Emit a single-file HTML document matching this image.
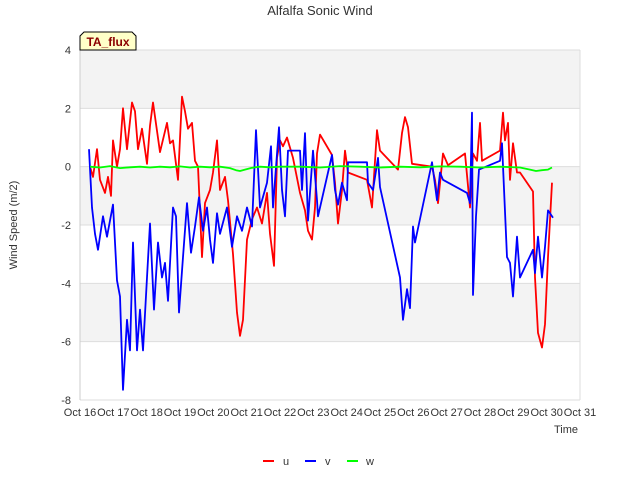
<!DOCTYPE html>
<html><head><meta charset="utf-8"><style>
body{margin:0;background:#fff;font-family:"Liberation Sans",sans-serif;}
svg text{font-family:"Liberation Sans",sans-serif;}
</style></head><body>
<svg id="c" width="640" height="480" xmlns="http://www.w3.org/2000/svg">
<rect width="640" height="480" fill="#fff"/>
<text x="320" y="15" text-anchor="middle" font-size="13" fill="#333">Alfalfa Sonic Wind</text>
<g id="bands"></g>
<g id="grid"></g>
<g id="ticks"></g>
<text transform="translate(17,225) rotate(-90)" text-anchor="middle" font-size="11" fill="#333">Wind Speed (m/2)</text>
<text x="578" y="433" text-anchor="end" font-size="11" fill="#333">Time</text>
<g id="series"></g>
<g>
<path d="M80,50 L80,36 L84,32 L132,32 L136,36 L136,50 Z" fill="#ffffc8" stroke="#000" stroke-width="1"/>
<text x="108" y="46" text-anchor="middle" font-size="12" font-weight="bold" fill="#8b0000">TA_flux</text>
</g>
<g>
<g><line x1="263" y1="461" x2="274" y2="461" stroke="#f00" stroke-width="2"/><text x="283" y="465" font-size="11" fill="#333">u</text></g>
<g><line x1="305" y1="461" x2="316" y2="461" stroke="#00f" stroke-width="2"/><text x="325" y="465" font-size="11" fill="#333">v</text></g>
<g><line x1="347" y1="461" x2="358" y2="461" stroke="#0f0" stroke-width="2"/><text x="366" y="465" font-size="11" fill="#333">w</text></g>
</g>
</svg>
<script>
const xTickLabels=["Oct 16","Oct 17","Oct 18","Oct 19","Oct 20","Oct 21","Oct 22","Oct 23","Oct 24","Oct 25","Oct 26","Oct 27","Oct 28","Oct 29","Oct 30","Oct 31"];
const yTicks=[4,2,0,-2,-4,-6,-8];
const uX=[90,93,97,100,105,108,111,113,117,120,123,127,132,135,138,142,147,150,153,160,167,170,173,178,182,185,188,192,195,198,202,205,210,213,217,220,225,228,233,237,240,243,247,252,257,262,267,270,274,277,280,283,287,293,300,305,308,312,315,317,320,332,335,338,342,345,348,367,372,377,380,398,402,405,408,412,432,435,438,443,448,465,470,473,477,480,482,500,503,505,508,510,513,517,520,533,535,538,542,545,548,552];
const uY=[0,-0.35,0.6,-0.45,-0.9,-0.35,-1.0,0.9,0,0.6,2.0,0.6,2.2,1.9,0.6,1.3,0.1,1.4,2.2,0.5,1.5,0.8,0.9,-0.45,2.4,1.9,1.3,1.5,0.2,0,-3.1,-1.25,-0.8,-0.2,0.9,-0.8,-0.35,-1.15,-3.0,-5.0,-5.8,-5.25,-2.5,-1.8,-1.4,-1.95,-0.9,-2.3,-3.4,0.3,0.9,0.7,1.0,0.3,-0.9,-1.5,-2.2,-2.5,-1.4,0.45,1.1,0.4,-0.55,-1.95,-0.8,0.55,-0.2,-0.45,-1.4,1.25,0.55,-0.1,1.15,1.7,1.35,0.1,0,-0.45,-1.25,0.45,0.05,0.45,-1.4,0.45,0.2,1.5,0.2,0.55,1.85,0.9,1.5,-0.45,0.8,-0.2,-0.2,-0.85,-3.8,-5.7,-6.2,-5.4,-3.1,-0.55];
const vX=[89,92,95,98,103,107,110,113,117,120,123,127,130,133,137,140,143,147,150,154,158,162,165,168,173,176,179,183,187,191,195,199,203,207,210,213,217,220,227,232,237,242,247,252,256,260,267,271,273,279,282,285,288,300,302,305,308,313,317,318,332,335,338,342,347,348,367,368,373,378,380,400,403,407,410,413,415,432,437,440,443,467,470,472,473,476,479,500,502,507,510,513,517,520,533,535,538,542,545,548,553];
const vY=[0.6,-1.4,-2.3,-2.85,-1.7,-2.4,-1.85,-1.3,-3.9,-4.45,-7.65,-5.25,-6.3,-2.6,-6.3,-4.9,-6.3,-3.8,-1.95,-4.9,-2.6,-3.8,-3.3,-4.6,-1.4,-1.7,-5.0,-3.1,-1.25,-2.95,-2.05,-1.05,-2.2,-1.4,-2.5,-3.3,-1.6,-2.3,-1.4,-2.75,-1.7,-2.2,-1.4,-2.05,1.25,-1.4,-0.55,0.7,-1.4,1.35,-0.8,-1.7,0.55,0.55,-0.8,1.15,-1.85,0.55,-1.15,-1.7,0.4,-0.8,-1.3,-0.55,-1.15,0.15,0.15,-0.55,-0.8,0.3,-0.7,-3.8,-5.25,-4.2,-4.85,-2.05,-2.6,0.15,-1.15,-0.2,-0.45,-0.9,-1.25,1.85,-4.4,-1.7,-0.1,0.2,0.8,-3.1,-3.3,-4.45,-2.4,-3.8,-2.85,-3.65,-2.4,-3.8,-2.75,-1.5,-1.75];
const wX=[90,100,110,120,130,140,150,160,170,180,190,200,210,220,230,236,240,245,252,260,270,280,300,320,340,360,380,400,420,440,460,480,500,520,530,536,542,548,552];
const wY=[0,-0.03,0.02,-0.05,-0.02,0,-0.03,0,-0.02,0.01,-0.03,0,-0.02,0,-0.05,-0.12,-0.15,-0.1,-0.04,0,-0.02,0,0,-0.03,0.02,0,-0.03,0,-0.02,0.01,0,-0.03,0,-0.03,-0.1,-0.15,-0.12,-0.1,-0.03];
const L=80,R=580,T=50,B=400,yMin=-8,yMax=4;
const dayX=d=>L+d*(R-L)/15;
const pxToDay=p=>(p-L)*15/(R-L);
const yS=v=>B-(v-yMin)*(B-T)/(yMax-yMin);
const NS="http://www.w3.org/2000/svg";
const mk=(t,a,p)=>{const e=document.createElementNS(NS,t);for(const k in a)e.setAttribute(k,a[k]);p.appendChild(e);return e;};
const bands=document.getElementById('bands');
for(let i=0;i<yTicks.length-1;i+=2){
 const r=mk('rect',{x:L,y:yS(yTicks[i]),width:R-L,height:yS(yTicks[i+1])-yS(yTicks[i]),fill:'#f3f3f3'},bands);
 
 
}
const grid=document.getElementById('grid');
const ticks=document.getElementById('ticks');
yTicks.forEach(v=>{
 const g=mk('line',{x1:L,x2:R,y1:yS(v),y2:yS(v),stroke:'#ddd','stroke-width':1},grid);
 
 
 const t=mk('text',{x:L-9,y:yS(v)+4,'text-anchor':'end','font-size':11,fill:'#333'},ticks);
 t.textContent=v;
 
 
});
mk('line',{x1:L,x2:L,y1:T,y2:B,stroke:'#ccc'},grid);
mk('line',{x1:R,x2:R,y1:T,y2:B,stroke:'#ddd'},grid);
xTickLabels.forEach((s,i)=>{
 const t=mk('text',{x:dayX(i),y:416,'text-anchor':'middle','font-size':11,fill:'#333'},ticks);
 t.textContent=s;
 
 
});
const ser=document.getElementById('series');
function line(xs,ys,c,name){
 const d=xs.map((x,i)=>(i?'L':'M')+dayX(pxToDay(x)).toFixed(1)+','+yS(ys[i]).toFixed(1)).join('');
 const p=mk('path',{d:d,fill:'none',stroke:c,'stroke-width':1.8,'stroke-linejoin':'round'},ser);
 
 
}
line(uX,uY,'#f00','series-u');
line(vX,vY,'#00f','series-v');
line(wX,wY,'#0f0','series-w');
</script>
</body></html>
